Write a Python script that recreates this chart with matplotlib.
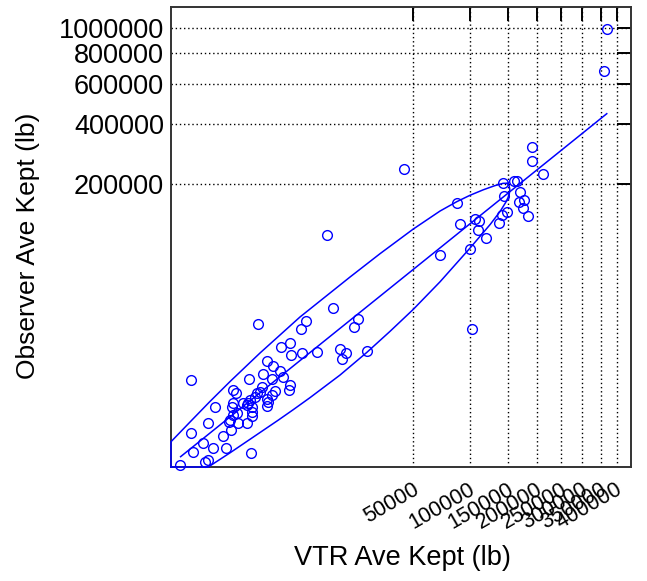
import numpy as np
import matplotlib
matplotlib.use("Agg")
import matplotlib.pyplot as plt
import matplotlib.transforms as mtransforms

plt.rcParams['font.family'] = ['Liberation Sans', 'DejaVu Sans']

# ------------------------------------------------------------------
# data (lb)
# ------------------------------------------------------------------
vtr_kept = [113, 430, 479, 242, 384, 602, 986, 2160, 211, 859, 1150, 483, 1060, 1120, 1440, 1910, 639, 1250,
            1400, 1180, 1250, 1720, 1910, 2010, 2110, 2220, 2270, 2270, 1250, 1350, 2560, 2440, 2810, 2940, 3360,
            3510, 3390, 4210, 3890, 2070, 3090, 3830, 4650, 5110, 5950, 5790, 3360, 3910, 2680, 211, 4820, 5950,
            6040, 7750, 10500, 7590, 8430, 14400, 12700, 16200, 17900, 16700, 20700, 21900, 25300, 44100, 70700,
            85800, 89100, 106000, 111000, 110000, 120000, 100000, 102000, 137000, 141000, 148000, 144000, 143000,
            159000, 164000, 170000, 167000, 176000, 174000, 184000, 190000, 190000, 212000, 361000, 370000]
obs_kept = [24, 33, 43, 94, 194, 125, 133, 88, 373, 303, 451, 649, 684, 778, 649, 666, 1420, 973, 1050, 1420,
            1650, 1650, 1530, 1650, 1890, 1420, 1140, 927, 2790, 2460, 2460, 2160, 2620, 3140, 2010, 1740, 1470,
            2690, 2350, 4180, 4920, 4110, 5380, 4390, 3340, 2840, 7220, 6280, 18800, 3970, 10600, 11700, 8690,
            9060, 9390, 16900, 20300, 26700, 98800, 10200, 9180, 7720, 17700, 20900, 9650, 239000, 70900, 156000,
            116000, 124000, 120000, 105000, 93200, 79000, 16600, 117000, 132000, 138000, 170000, 202000, 207000,
            208000, 180000, 157000, 161000, 144000, 130000, 263000, 312000, 226000, 684000, 994000]

# fitted line and the band around it
fit_x = [120, 368000]
fit_y = [60, 447000]
upper_x = [64, 64, 204, 515, 1120, 2810, 7420, 19300, 31200, 49800, 70400, 86000, 100000, 116000, 131000,
           143000, 149000]
upper_y = [19, 206, 684, 1760, 3780, 9060, 22000, 48900, 73100, 107000, 139000, 158000, 172000, 185000, 195000,
           201000, 201000]
lower_x = [64, 485, 1120, 2110, 4480, 6370, 9160, 16200, 25400, 36100, 50000, 70400, 100000, 125000, 139000,
           147000, 152000, 153000, 152000, 149000]
lower_y = [19, 19, 86, 243, 747, 1240, 2080, 4680, 9210, 15800, 26000, 44800, 79800, 115000, 139000, 157000,
           172000, 186000, 195000, 201000]

x_ticks = [50000, 100000, 150000, 200000, 250000, 300000, 350000, 400000]
y_ticks = [200000, 400000, 600000, 800000, 1000000]


def fwd(a):
    a = np.asarray(a, float)
    return np.sign(a) * np.abs(a) ** 0.25


def inv(a):
    a = np.asarray(a, float)
    return np.sign(a) * np.abs(a) ** 4


fig = plt.figure(figsize=(6.47, 5.81), dpi=100)
ax = fig.add_axes([171 / 647, 1 - 467 / 581, 460 / 647, 460 / 581])

ax.set_xscale('function', functions=(fwd, inv))
ax.set_yscale('function', functions=(fwd, inv))

blue = '#0000ff'
ax.plot(fit_x, fit_y, color=blue, lw=1.1, zorder=3)
ax.plot(upper_x, upper_y, color=blue, lw=1.1, zorder=3, clip_on=False)
ax.plot(lower_x, lower_y, color=blue, lw=1.1, zorder=3, clip_on=False)
ax.plot(vtr_kept, obs_kept, 'o', mfc='none', mec=blue, mew=1.0, ms=7, zorder=4, clip_on=False)

ax.set_xlim(64, 446000)
ax.set_ylim(19, 1191000)

ax.set_xticks(x_ticks)
ax.set_xticklabels([str(t) for t in x_ticks])
ax.set_yticks(y_ticks)
ax.set_yticklabels([str(t) for t in y_ticks])

ax.grid(True, color='black', linestyle=(0, (1, 2)), linewidth=1.0)
ax.set_axisbelow(True)

ax.tick_params(axis='x', which='both', bottom=False, top=True, direction='in', length=10, width=1.4,
               labelsize=15.5, pad=15)
ax.tick_params(axis='y', which='both', left=False, right=True, direction='in', length=10, width=1.4,
               labelsize=19.5, pad=5)

offset = mtransforms.ScaledTranslation(4 / 100, 0, fig.dpi_scale_trans)
for lab in ax.get_xticklabels():
    lab.set_rotation(30)
    lab.set_ha('right')
    lab.set_va('center')
    lab.set_rotation_mode('anchor')
    lab.set_transform(lab.get_transform() + offset)

for sp in ax.spines.values():
    sp.set_color('#333333')
    sp.set_linewidth(1.4)
    sp.set_zorder(2)

fig.text(402 / 647, 1 - 558 / 581, 'VTR Ave Kept (lb)', ha='center', va='center', fontsize=19.5)
fig.text(28 / 647, 1 - 246 / 581, 'Observer Ave Kept (lb)', ha='center', va='center', fontsize=19,
         rotation=90)

fig.savefig('out.png', dpi=100)
